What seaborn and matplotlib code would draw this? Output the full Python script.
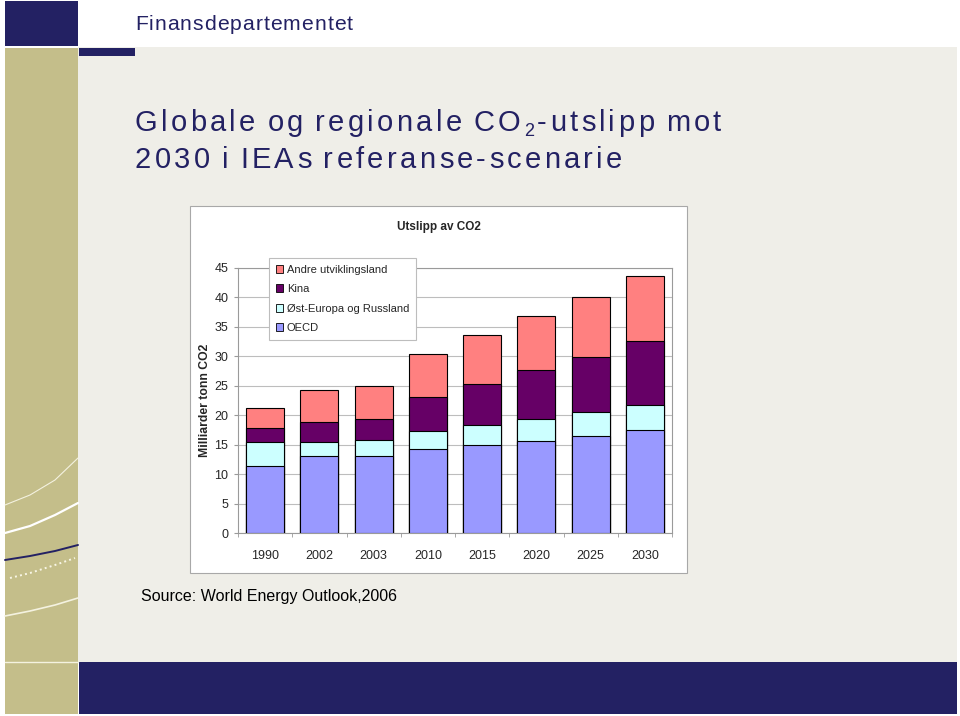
import numpy as np
import pandas as pd
import matplotlib
matplotlib.use('Agg')
import matplotlib.pyplot as plt
import seaborn as sns
from matplotlib.patches import Rectangle, Patch
from matplotlib.lines import Line2D
from matplotlib import font_manager

sns.set_style('white')

names = [f.name for f in font_manager.fontManager.ttflist]
narrow = 'Liberation Sans Narrow' if 'Liberation Sans Narrow' in names else 'Liberation Sans'
plt.rcParams['font.family'] = ['Liberation Sans', 'DejaVu Sans']

# data (milliarder tonn CO2)
years = ['1990', '2002', '2003', '2010', '2015', '2020', '2025', '2030']
oecd = [11.3, 13.0, 13.1, 14.3, 14.9, 15.7, 16.5, 17.5]
ost_europa = [4.15, 2.45, 2.75, 3.0, 3.5, 3.65, 4.0, 4.3]
kina = [2.35, 3.35, 3.55, 5.85, 6.95, 8.25, 9.4, 10.8]
andre = [3.4, 5.4, 5.6, 7.2, 8.2, 9.2, 10.1, 11.1]

series = ['OECD', 'Øst-Europa og Russland', 'Kina', 'Andre utviklingsland']
colors = ['#9999FF', '#CCFFFF', '#660066', '#FF8080']

df = pd.DataFrame({'år': years, series[0]: oecd, series[1]: ost_europa,
                   series[2]: kina, series[3]: andre})
cum = df[series].cumsum(axis=1)

W, H = 960, 716
fig = plt.figure(figsize=(W / 100, H / 100), dpi=100)
fig.patch.set_facecolor('white')
renderer = fig.canvas.get_renderer()

def fx(x):
    return x / W

def fy(y):
    return 1 - y / H

navy = '#232163'
khaki = '#C4BE8A'
bg = '#EFEEE8'

def rect(x0, y0, x1, y1, color, **kw):
    fig.patches.append(Rectangle((fx(x0), fy(y1)), fx(x1) - fx(x0), fy(y0) - fy(y1),
                                 transform=fig.transFigure, facecolor=color,
                                 edgecolor=kw.pop('edgecolor', 'none'), zorder=-5, **kw))

def text_width(s, size):
    t = fig.text(0, 0, s, fontsize=size)
    w = t.get_window_extent(renderer).width
    t.remove()
    return w

def spaced_text(x, y, s, size, track, color, sub=None, space_track=None):
    # letter by letter with extra tracking (px); sub = index drawn as subscript
    if space_track is None:
        space_track = track
    extra = 0
    for i, ch in enumerate(s):
        if ch == ' ':
            extra += space_track
            continue
        xr = x + text_width(s[:i + 1].replace(' ', '\u00a0'), size) + extra
        extra += track
        if sub is not None and i >= sub:
            xr -= text_width(s[sub], size) - text_width(s[sub], size * 0.62)
        if sub is not None and i == sub:
            fig.text(fx(xr), fy(y + 9), ch, fontsize=size * 0.62, color=color,
                     ha='right', va='center')
        else:
            fig.text(fx(xr), fy(y), ch, fontsize=size, color=color,
                     ha='right', va='center')

# slide background
rect(78, 47, 957, 662, bg)
rect(5, 1, 78, 46, navy)
rect(79, 48, 135, 56, navy)
rect(5, 48, 78, 714, khaki)
rect(79, 662, 957, 714, navy)
fig.lines.append(Line2D([fx(5), fx(78)], [fy(662), fy(662)], transform=fig.transFigure,
                        color='#F4F2E0', lw=1))

# decorative curves in the left strip
curves = [
    ([5, 30, 55, 78], [505, 495, 480, 458], '#F4F2E0', 0.8, '-'),
    ([5, 30, 55, 78], [533, 526, 515, 503], 'white', 1.6, '-'),
    ([5, 30, 55, 78], [560, 556, 551, 545], navy, 1.4, '-'),
    ([10, 30, 55, 75], [578, 573, 565, 558], '#F8F6E6', 1.4, ':'),
    ([5, 30, 55, 78], [616, 611, 605, 598], '#F4F2E0', 1.2, '-'),
]
for xs, ys, c, lw, ls in curves:
    fig.lines.append(Line2D([fx(v) for v in xs], [fy(v) for v in ys],
                            transform=fig.transFigure, color=c, lw=lw, ls=ls))

# slide texts
spaced_text(135, 25, 'Finansdepartementet', 15.2, 1.0, navy)
spaced_text(135, 123, 'Globale og regionale CO2-utslipp mot', 21, 3.3, navy, sub=23,
            space_track=0.5)
spaced_text(135, 160, '2030 i IEAs referanse-scenarie', 21, 3.3, navy, space_track=0.5)
fig.text(fx(141), fy(597), 'Source: World Energy Outlook,2006', color='black',
         fontsize=11.5, ha='left', va='center', family=[narrow, 'DejaVu Sans'])

# chart frame
rect(190, 206, 687, 573, 'white', edgecolor='#A8A8A8', linewidth=0.8)
fig.text(fx(439), fy(227), 'Utslipp av CO2', fontsize=8.5, fontweight='bold',
         ha='center', va='center', family=[narrow, 'DejaVu Sans'])

ax = fig.add_axes([fx(238), fy(533), fx(672) - fx(238), fy(268) - fy(533)])
ax.set_facecolor('white')
ax.set_zorder(2)

# stacked bars: draw cumulative totals from the top layer down
for s, c in zip(series[::-1], colors[::-1]):
    sns.barplot(x=df['år'], y=cum[s], color=c, width=0.7, edgecolor='black',
                linewidth=0.8, ax=ax, zorder=3, saturation=1)

ax.set_ylim(0, 45)
ax.set_xlim(-0.5, 7.5)
ax.set_yticks(np.arange(0, 46, 5))
ax.yaxis.grid(True, color='#BDBDBD', lw=0.8, zorder=0)
ax.set_axisbelow(True)
for sp in ax.spines.values():
    sp.set_color('#9A9A9A')
    sp.set_linewidth(0.8)
ax.set_xlabel('')
ax.set_ylabel('Milliarder tonn CO2', fontsize=8.8, fontweight='bold')
ax.yaxis.set_label_coords(-0.062, 0.5)
ax.tick_params(axis='y', direction='out', length=3, color='#9A9A9A', labelsize=9,
               pad=4, left=True)
ax.tick_params(axis='x', which='major', length=0, labelsize=9, pad=12)
ax.set_xticks(np.arange(-0.5, 8, 1), minor=True)
ax.tick_params(axis='x', which='minor', direction='out', length=3, color='#9A9A9A',
               bottom=True)
for lab in ax.get_xticklabels() + ax.get_yticklabels():
    lab.set_family([narrow, 'DejaVu Sans'])

handles = [Patch(facecolor=c, edgecolor='black', linewidth=0.6, label=s)
           for s, c in zip(series[::-1], colors[::-1])]
leg = fig.legend(handles=handles, loc='upper left',
                 bbox_to_anchor=(fx(269), fy(258)), bbox_transform=fig.transFigure,
                 frameon=True, fancybox=False, edgecolor='#BDBDBD', framealpha=1,
                 prop={'family': [narrow, 'DejaVu Sans'], 'size': 8},
                 handlelength=0.7, handleheight=0.7, handletextpad=0.3,
                 labelspacing=0.85, borderpad=0.6, borderaxespad=0)
leg.get_frame().set_linewidth(0.8)
leg.set_zorder(5)

fig.savefig('out.png', dpi=100)
